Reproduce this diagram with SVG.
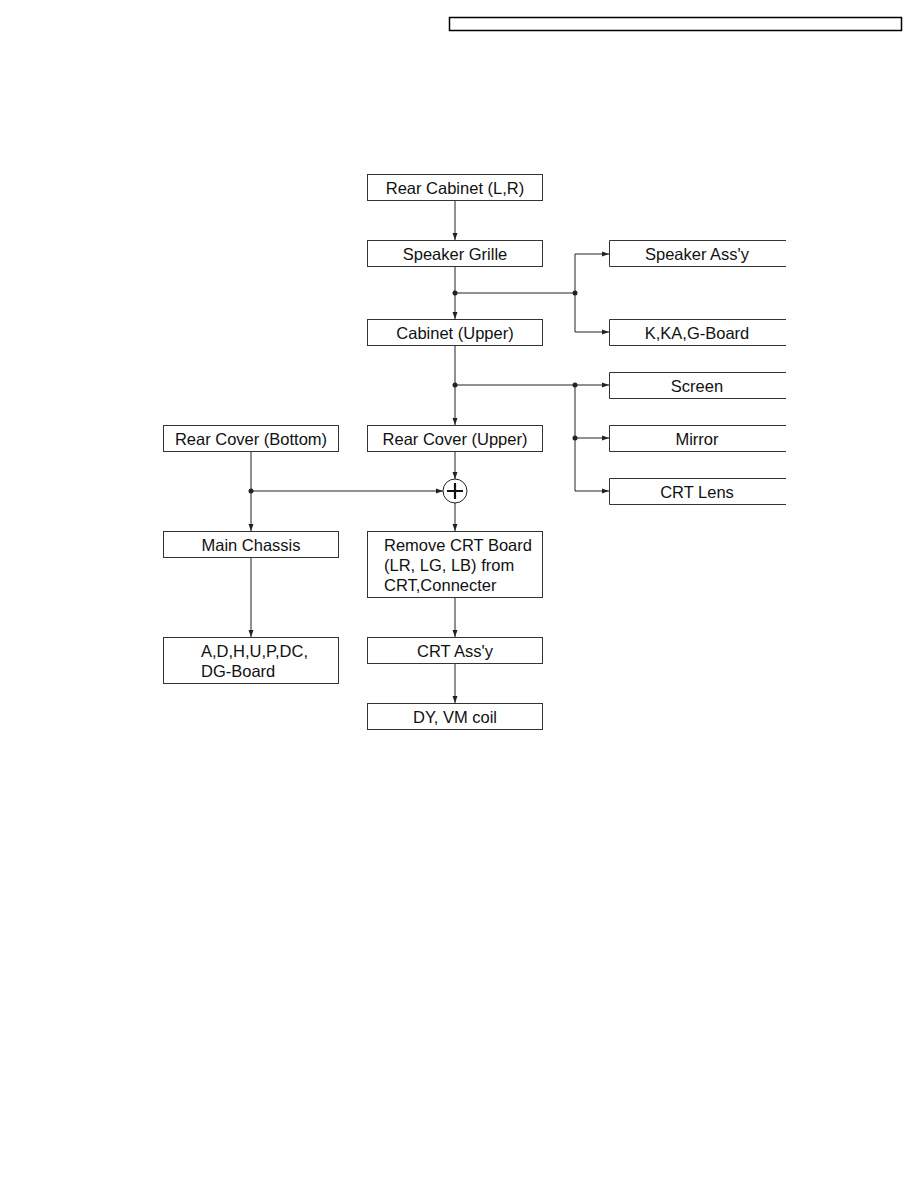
<svg xmlns="http://www.w3.org/2000/svg" width="918" height="1188" viewBox="0 0 918 1188">
<style>
.b{fill:#fff;stroke:#333;stroke-width:1}
.o{fill:none;stroke:#333;stroke-width:1}
.t{font-family:"Liberation Sans",Arial,sans-serif;font-size:16.5px;fill:#111}
.c{text-anchor:middle}
.l{fill:none;stroke:#222;stroke-width:1}
</style>
<defs>
<marker id="a" markerWidth="8" markerHeight="6" refX="7" refY="3" orient="auto" markerUnits="userSpaceOnUse">
<path d="M0,0.5 L7,3 L0,5.5 Z" fill="#222"/>
</marker>
</defs>
<rect x="449.5" y="17.5" width="452" height="13" fill="#fff" stroke="#000" stroke-width="1.5"/>
<g id="connectors">
<line class="l" x1="455" y1="200" x2="455" y2="240" marker-end="url(#a)"/>
<line class="l" x1="455" y1="266" x2="455" y2="319" marker-end="url(#a)"/>
<line class="l" x1="455" y1="293" x2="575" y2="293"/>
<polyline class="l" points="575,254 575,332"/>
<line class="l" x1="575" y1="254" x2="609" y2="254" marker-end="url(#a)"/>
<line class="l" x1="575" y1="332" x2="609" y2="332" marker-end="url(#a)"/>
<line class="l" x1="455" y1="345" x2="455" y2="425" marker-end="url(#a)"/>
<line class="l" x1="455" y1="385" x2="609" y2="385" marker-end="url(#a)"/>
<polyline class="l" points="575,385 575,491"/>
<line class="l" x1="575" y1="438" x2="609" y2="438" marker-end="url(#a)"/>
<line class="l" x1="575" y1="491" x2="609" y2="491" marker-end="url(#a)"/>
<line class="l" x1="455" y1="451" x2="455" y2="479" marker-end="url(#a)"/>
<line class="l" x1="251" y1="451" x2="251" y2="531" marker-end="url(#a)"/>
<line class="l" x1="251" y1="491" x2="443" y2="491" marker-end="url(#a)"/>
<line class="l" x1="455" y1="503" x2="455" y2="531" marker-end="url(#a)"/>
<line class="l" x1="251" y1="557" x2="251" y2="637" marker-end="url(#a)"/>
<line class="l" x1="455" y1="597" x2="455" y2="637" marker-end="url(#a)"/>
<line class="l" x1="455" y1="663" x2="455" y2="703" marker-end="url(#a)"/>
<circle cx="455" cy="293" r="2.5" fill="#222"/>
<circle cx="575" cy="293" r="2.5" fill="#222"/>
<circle cx="455" cy="385" r="2.5" fill="#222"/>
<circle cx="575" cy="385" r="2.5" fill="#222"/>
<circle cx="575" cy="438" r="2.5" fill="#222"/>
<circle cx="251" cy="491" r="2.5" fill="#222"/>
</g>
<g id="n1"><rect class="b" x="367.5" y="174.5" width="175" height="26"/><text class="t c" x="455" y="193.5">Rear Cabinet (L,R)</text></g>
<g id="n2"><rect class="b" x="367.5" y="240.5" width="175" height="26"/><text class="t c" x="455" y="259.5">Speaker Grille</text></g>
<g id="n3"><rect class="b" x="367.5" y="319.5" width="175" height="26"/><text class="t c" x="455" y="338.5">Cabinet (Upper)</text></g>
<g id="n4"><path class="o" d="M786,240.5 H609.5 V266.5 H786"/><text class="t c" x="697" y="259.5">Speaker Ass'y</text></g>
<g id="n5"><path class="o" d="M786,319.5 H609.5 V345.5 H786"/><text class="t c" x="697" y="338.5">K,KA,G-Board</text></g>
<g id="n6"><path class="o" d="M786,372.5 H609.5 V398.5 H786"/><text class="t c" x="697" y="391.5">Screen</text></g>
<g id="n7"><path class="o" d="M786,425.5 H609.5 V451.5 H786"/><text class="t c" x="697" y="444.5">Mirror</text></g>
<g id="n8"><path class="o" d="M786,478.5 H609.5 V504.5 H786"/><text class="t c" x="697" y="497.5">CRT Lens</text></g>
<g id="n9"><rect class="b" x="163.5" y="425.5" width="175" height="26"/><text class="t c" x="251" y="444.5">Rear Cover (Bottom)</text></g>
<g id="n10"><rect class="b" x="367.5" y="425.5" width="175" height="26"/><text class="t c" x="455" y="444.5">Rear Cover (Upper)</text></g>
<g id="n11"><circle cx="455" cy="491" r="12" fill="#fff" stroke="#222" stroke-width="1"/><path d="M447,491 H463 M455,483 V499" stroke="#111" stroke-width="2.2" fill="none"/></g>
<g id="n12"><rect class="b" x="163.5" y="531.5" width="175" height="26"/><text class="t c" x="251" y="550.5">Main Chassis</text></g>
<g id="n13"><rect class="b" x="367.5" y="531.5" width="175" height="66"/><text class="t" x="384" y="550.5">Remove CRT Board</text><text class="t" x="384" y="570.5">(LR, LG, LB) from</text><text class="t" x="384" y="590.5">CRT,Connecter</text></g>
<g id="n14"><rect class="b" x="163.5" y="637.5" width="175" height="46"/><text class="t" x="201" y="656.5">A,D,H,U,P,DC,</text><text class="t" x="201" y="676.5">DG-Board</text></g>
<g id="n15"><rect class="b" x="367.5" y="637.5" width="175" height="26"/><text class="t c" x="455" y="656.5">CRT Ass'y</text></g>
<g id="n16"><rect class="b" x="367.5" y="703.5" width="175" height="26"/><text class="t c" x="455" y="722.5">DY, VM coil</text></g>
</svg>
